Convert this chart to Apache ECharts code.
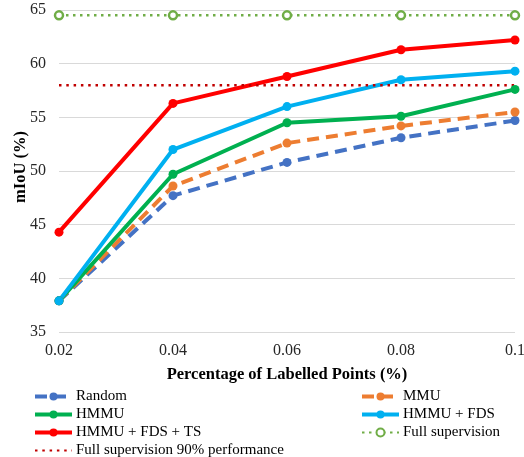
<!DOCTYPE html>
<html><head><meta charset="utf-8">
<script src="https://cdn.jsdelivr.net/npm/echarts@6/dist/echarts.min.js"></script>
<style>html,body{margin:0;padding:0;background:#fff}#c{width:524px;height:457px}</style>
</head><body><div id="c"></div>
<script>
const categories = ["0.02","0.04","0.06","0.08","0.1"];
const yTicks = [35,40,45,50,55,60,65];
const random = [37.9,47.7,50.8,53.1,54.7];
const mmu = [37.9,48.6,52.6,54.2,55.5];
const hmmu = [37.9,49.7,54.5,55.1,57.6];
const hmmuFds = [37.9,52.0,56.0,58.5,59.3];
const hmmuFdsTs = [44.3,56.3,58.8,61.3,62.2];
const fullSup = [64.5,64.5,64.5,64.5,64.5];
const fullSup90 = [58,58,58,58,58];

const FONT = "Liberation Serif";
function mainLine(name, data, color, dashed){
  return {name, type:'line', data, symbol:'circle', symbolSize:9,
    itemStyle:{color}, lineStyle:{color, width:4, type: dashed?[12,7]:'solid', cap:'butt'}};
}
const thick = {width:4};
const chart = echarts.init(document.getElementById('c'));
chart.setOption({
  animation:false,
  textStyle:{fontFamily:FONT},
  grid:{left:59,right:9,top:10,bottom:125,outerBoundsMode:'none',containLabel:false},
  xAxis:{type:'category',data:categories,boundaryGap:false,
    axisLine:{show:false},axisTick:{show:false},
    axisLabel:{fontFamily:FONT,fontSize:16,color:'#262626',margin:11},
    name:'Percentage of Labelled Points (%)',nameLocation:'middle',nameGap:34,nameMoveOverlap:false,
    nameTextStyle:{fontFamily:FONT,fontSize:16.5,fontWeight:'bold',color:'#000'}},
  yAxis:{type:'value',min:yTicks[0],max:yTicks[yTicks.length-1],interval:5,
    axisLine:{show:false},axisTick:{show:false},
    splitLine:{lineStyle:{color:'#D9D9D9',width:1}},
    axisLabel:{fontFamily:FONT,fontSize:16,color:'#262626',margin:13},
    name:'mIoU (%)',nameLocation:'middle',nameGap:30,nameMoveOverlap:false,
    nameTextStyle:{fontFamily:FONT,fontSize:16.5,fontWeight:'bold',color:'#000',padding:[0,0,0,8]}},
  legend:[
    {data:[{name:'Random',lineStyle:thick},{name:'HMMU',lineStyle:thick},{name:'HMMU + FDS + TS',lineStyle:thick},
           {name:'Full supervision 90% performance',itemStyle:{opacity:0}}],orient:'vertical',
     left:33,top:389,height:100,itemWidth:37,itemHeight:10,itemGap:3,padding:0,
     textStyle:{fontFamily:FONT,fontSize:15,color:'#000',padding:[0,0,0,-1]}},
    {data:[{name:'MMU',lineStyle:thick},{name:'HMMU + FDS',lineStyle:thick},'Full supervision'],orient:'vertical',
     left:360,top:389,height:100,itemWidth:37,itemHeight:10,itemGap:3,padding:0,
     textStyle:{fontFamily:FONT,fontSize:15,color:'#000',padding:[0,0,0,-1]}}
  ],
  series:[
    mainLine('Random',random,'#4472C4',true),
    mainLine('MMU',mmu,'#ED7D31',true),
    mainLine('HMMU',hmmu,'#00B050',false),
    mainLine('HMMU + FDS',hmmuFds,'#00B0F0',false),
    mainLine('HMMU + FDS + TS',hmmuFdsTs,'#FF0000',false),
    {name:'Full supervision',type:'line',data:fullSup,symbol:'circle',symbolSize:8,
     itemStyle:{color:'#fff',borderColor:'#70AD47',borderWidth:2.5},
     lineStyle:{color:'#70AD47',width:2.5,type:[2.5,4.5]}},
    {name:'Full supervision 90% performance',type:'line',data:fullSup90,symbol:'none',
     itemStyle:{color:'#C00000'},
     lineStyle:{color:'#C00000',width:2.5,type:[2.5,4.8]}}
  ]
});
</script></body></html>
